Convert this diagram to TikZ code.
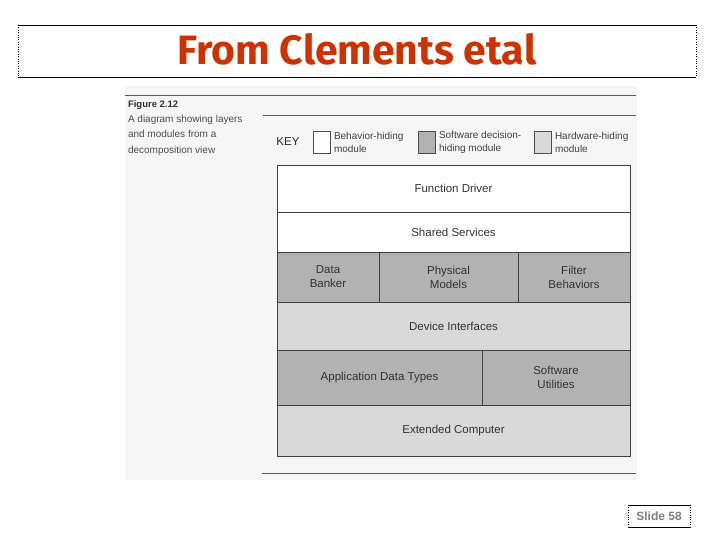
\documentclass[tikz,border=0pt]{standalone}
\usepackage{fontspec}
\setmainfont{Liberation Sans}
\newfontfamily\titlefont{Fira Sans}
\usetikzlibrary{positioning}
\definecolor{titlered}{RGB}{204,51,0}
\definecolor{swgray}{gray}{0.70}
\definecolor{hwgray}{gray}{0.85}
\definecolor{scanbg}{gray}{0.965}

\begin{document}
\begin{tikzpicture}[x=1pt, y=-1pt, every node/.style={inner sep=0pt, outer sep=0pt}]
    \tikzstyle{layer}=[rectangle, draw=black!75, line width=0.7pt, align=center, font=\fontsize{11.5}{14}\selectfont, text=black!80]
    \tikzstyle{beh box}=[layer, fill=white];
    \tikzstyle{sw box}=[layer, fill=swgray];
    \tikzstyle{hw box}=[layer, fill=hwgray];
    \tikzstyle{keybox}=[rectangle, draw=black!70, line width=0.6pt, minimum width=17, minimum height=22];
    \tikzstyle{keytext}=[align=left, font=\fontsize{10}{13}\selectfont, text=black!75];
    \tikzstyle{rule}=[draw=black!65, line width=0.8pt];

    \useasboundingbox (0,0) rectangle (720,540);

    % Slide title with its frame
    \node[minimum width=678, minimum height=52, anchor=north west] (title) at (18,25) {};
    \node[font=\titlefont\bfseries\fontsize{41}{44}\selectfont, text=titlered] (titletext) at (357,49) {From Clements etal};
    \draw[line width=0.8pt] (title.north west) -- (title.north east);
    \draw[line width=0.8pt] (title.south west) -- (title.south east);
    \draw[dotted] (title.north west) -- (title.south west);
    \draw[dotted] (title.north east) -- (title.south east);

    % The scanned page
    \fill[scanbg] (125,86) rectangle (637,480);
    \draw[rule] (125,95) -- (636,95);
    \draw[rule] (263,115) -- (636,115);
    \draw[rule] (262,473) -- (636,473);

    % Caption
    \node[anchor=west, font=\bfseries\fontsize{9.5}{10}\selectfont, text=black!80] (figno) at (128,105) {Figure 2.12};
    \node[anchor=north west, align=left, font=\fontsize{10}{15.5}\selectfont, text=black!70] (caption) at (128,115)
        {A diagram showing layers\\and modules from a\\decomposition view};

    % Draw the key
    \node[font=\fontsize{11.5}{12}\selectfont, text=black!85] (key) at (288,142) {KEY};
    \foreach \name / \x / \col in {bh/313/white, sw/418/swgray, hw/534/hwgray}
        \node[keybox, fill=\col, anchor=north west] (K-\name) at (\x,131) {};
    \node[keytext, right=4pt of K-bh] (KT-bh) {Behavior-hiding\\module};
    \node[keytext, right=4pt of K-sw] (KT-sw) {Software decision-\\hiding module};
    \node[keytext, right=4pt of K-hw] (KT-hw) {Hardware-hiding\\module};

    % Draw the layers, top to bottom
    \node[beh box, minimum width=353, minimum height=47, anchor=north west] (fd) at (277,165) {Function Driver};
    \node[beh box, minimum width=353, minimum height=40, below=0pt of fd] (ss) {Shared Services};

    \node[sw box, minimum width=102, minimum height=50, below right=0pt and 0pt of ss.south west] (dbk) {Data\\Banker};
    \node[sw box, minimum width=139, minimum height=50, right=0pt of dbk] (pm) {Physical\\Models};
    \node[sw box, minimum width=112, minimum height=50, right=0pt of pm] (fb) {Filter\\Behaviors};

    \node[hw box, minimum width=353, minimum height=48, below right=0pt and 0pt of dbk.south west] (di) {Device Interfaces};

    \node[sw box, minimum width=205, minimum height=55, below right=0pt and 0pt of di.south west] (adt) {Application Data Types};
    \node[sw box, minimum width=148, minimum height=55, right=0pt of adt] (su) {Software\\Utilities};

    \node[hw box, minimum width=353, minimum height=51, below right=0pt and 0pt of adt.south west] (ec) {Extended Computer};

    % Slide number
    \node[minimum width=62, minimum height=22, font=\bfseries\fontsize{12}{13}\selectfont, text=black!50] (slide) at (659,516) {Slide 58};
    \draw[line width=0.6pt] (slide.north west) -- (slide.north east);
    \draw[line width=0.6pt] (slide.south west) -- (slide.south east);
    \draw[dotted] (slide.north west) -- (slide.south west);
    \draw[dotted] (slide.north east) -- (slide.south east);
\end{tikzpicture}
\end{document}
